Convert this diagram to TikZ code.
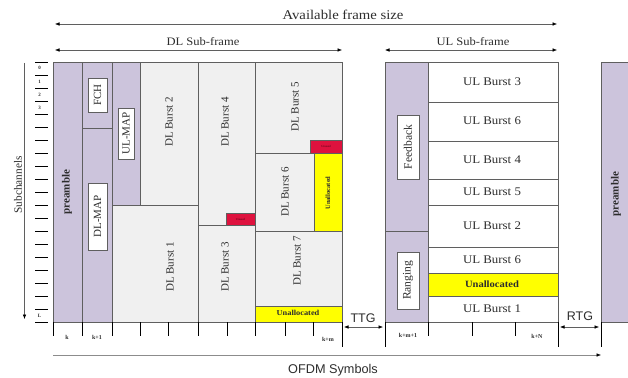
\documentclass[tikz,border=0pt]{standalone}
\usepackage{fontspec}
\setmainfont{Liberation Serif}
\setsansfont{Liberation Sans}
\newfontfamily\wideserif{Liberation Serif}[FakeStretch=1.1]
\usetikzlibrary{arrows.meta}
\definecolor{lav}{RGB}{204,196,220}
\definecolor{burst}{RGB}{240,240,240}
\definecolor{edge}{RGB}{95,95,95}
\definecolor{ink}{RGB}{45,45,45}
\definecolor{hot}{RGB}{222,18,62}
\definecolor{yel}{RGB}{255,255,0}
\newcommand\Cell[6]{\pgfmathsetmacro\mycw{#5-#3}\pgfmathsetmacro\mych{#6-#4}\node[#2, anchor=north west, minimum width=\mycw pt, minimum height=\mych pt, inner sep=0pt, outer sep=0pt] (#1) at (#3,#4) {};}
\begin{document}
\begin{tikzpicture}[x=1pt,y=-1pt,
  cell/.style={draw=edge, line width=0.7pt, rectangle},
  lavcell/.style={cell, fill=lav},
  graycell/.style={cell, fill=burst},
  whitecell/.style={cell, fill=white},
  yelcell/.style={cell, fill=yel},
  redcell/.style={cell, fill=hot},
  tag/.style={cell, fill=white},
  txt/.style={text=ink, inner sep=0pt},
  vtxt/.style={txt, rotate=90, font=\fontsize{11}{12}\selectfont},
  htxt/.style={txt, font=\wideserif\fontsize{11.7}{13}\selectfont},
  stxt/.style={txt, font=\sffamily\fontsize{12.5}{14}\selectfont},
  ktxt/.style={txt, font=\bfseries\fontsize{6}{7}\selectfont},
  ntxt/.style={txt, font=\bfseries\fontsize{5}{6}\selectfont},
  tickline/.style={draw=black, line width=0.9pt},
  dimarrow/.style={draw=edge, line width=0.6pt, {Latex[length=4.5pt,width=3.6pt,black]}-{Latex[length=4.5pt,width=3.6pt,black]}},
  onearrow/.style={draw=edge, line width=0.6pt, -{Latex[length=4.5pt,width=3.6pt,black]}},
]
\useasboundingbox (0,0) rectangle (628,377);

% ---------- top dimension arrows ----------
\coordinate (afL) at (55,24); \coordinate (afR) at (557,24);
\draw[dimarrow] (afL) -- (afR);
\node[txt, font=\wideserif\fontsize{13.4}{15}\selectfont] (aft) at (343,15) {Available frame size};
\coordinate (dlL) at (55,50); \coordinate (dlR) at (342,50);
\draw[dimarrow] (dlL) -- (dlR);
\node[txt, font=\wideserif\fontsize{11.4}{13}\selectfont] (dlt) at (203,42) {DL Sub-frame};
\coordinate (ulL) at (385,50); \coordinate (ulR) at (557,50);
\draw[dimarrow] (ulL) -- (ulR);
\node[txt, font=\wideserif\fontsize{11.4}{13}\selectfont] (ult) at (473,42) {UL Sub-frame};

% ---------- DL sub-frame ----------
\Cell{preL}{lavcell}{53}{62}{82}{322}
\Cell{fchc}{lavcell}{82}{62}{112}{128}
\Cell{dlmapc}{lavcell}{82}{128}{112}{322}
\Cell{ulmapc}{lavcell}{112}{62}{140}{205}
\Cell{b2}{graycell}{140}{62}{198}{205}
\Cell{b1}{graycell}{112}{205}{198}{322}
\Cell{b4}{graycell}{198}{62}{255}{225}
\Cell{r4}{redcell}{226}{213}{255}{225}
\Cell{b3}{graycell}{198}{225}{255}{322}
\Cell{b5}{graycell}{255}{62}{342}{153}
\Cell{r5}{redcell}{310}{140}{342}{153}
\Cell{b6}{graycell}{255}{153}{342}{231}
\Cell{y6}{yelcell}{314}{153}{342}{231}
\Cell{b7}{graycell}{255}{231}{342}{306}
\Cell{y7}{yelcell}{255}{306}{342}{322}

\Cell{fchbox}{tag}{88}{78}{107}{112}
\Cell{ulmapbox}{tag}{118}{108}{134}{159}
\Cell{dlmapbox}{tag}{88}{183}{107}{250}

\node[txt, rotate=90, font=\bfseries\fontsize{11}{12}\selectfont] (preLt) at (67,192) {preamble};
\node[vtxt] (fcht) at (fchbox) {FCH};
\node[vtxt] (ulmapt) at (ulmapbox) {UL-MAP};
\node[vtxt] (dlmapt) at (dlmapbox) {DL-MAP};
\node[vtxt] (b2t) at (169,122) {DL Burst 2};
\node[vtxt] (b1t) at (170,267) {DL Burst 1};
\node[vtxt] (b4t) at (225,122) {DL Burst 4};
\node[vtxt] (b3t) at (225,267) {DL Burst 3};
\node[vtxt] (b5t) at (295,107) {DL Burst 5};
\node[vtxt] (b6t) at (285,192) {DL Burst 6};
\node[vtxt] (b7t) at (297,261) {DL Burst 7};
\node[txt, rotate=90, font=\bfseries\fontsize{6.5}{7}\selectfont] (y6t) at (328,193) {Unallocated};
\node[txt, font=\bfseries\wideserif\fontsize{7.6}{9}\selectfont] (y7t) at (298,313) {Unallocated};
\node[txt, text=black!70!hot, font=\fontsize{3}{3.5}\selectfont] (r4t) at (r4) {Unused};
\node[txt, text=black!70!hot, font=\fontsize{3}{3.5}\selectfont] (r5t) at (r5) {Unused};

% ---------- UL sub-frame ----------
\Cell{fbc}{lavcell}{385}{62}{428}{231}
\Cell{rgc}{lavcell}{385}{231}{428}{322}
\Cell{u3}{whitecell}{428}{62}{558}{102}
\Cell{u6a}{whitecell}{428}{102}{558}{141}
\Cell{u4}{whitecell}{428}{141}{558}{179}
\Cell{u5}{whitecell}{428}{179}{558}{205}
\Cell{u2}{whitecell}{428}{205}{558}{247}
\Cell{u6b}{whitecell}{428}{247}{558}{273}
\Cell{uy}{yelcell}{428}{273}{558}{296}
\Cell{u1}{whitecell}{428}{296}{558}{322}
\Cell{fbbox}{tag}{397}{115}{419}{179}
\Cell{rgbox}{tag}{397}{252}{419}{309}

\node[txt, rotate=90, font=\fontsize{11.5}{13}\selectfont] (fbt) at (fbbox) {Feedback};
\node[txt, rotate=90, font=\fontsize{11.5}{13}\selectfont] (rgt) at (rgbox) {Ranging};
\node[htxt] (u3t) at (492,82) {UL Burst 3};
\node[htxt] (u6at) at (492,121) {UL Burst 6};
\node[htxt] (u4t) at (492,160) {UL Burst 4};
\node[htxt] (u5t) at (492,192) {UL Burst 5};
\node[htxt] (u2t) at (492,226) {UL Burst 2};
\node[htxt] (u6bt) at (492,260) {UL Burst 6};
\node[txt, font=\bfseries\wideserif\fontsize{9.6}{11}\selectfont] (uyt) at (492,284.5) {Unallocated};
\node[htxt] (u1t) at (492,309) {UL Burst 1};

% ---------- next frame preamble ----------
\Cell{preR}{lavcell}{601}{62}{640}{322}
\node[txt, rotate=90, font=\bfseries\fontsize{11}{12}\selectfont] (preRt) at (616,194) {preamble};

% ---------- subchannel axis ----------
\coordinate (scT) at (24.5,63); \coordinate (scB) at (24.5,319);
\draw[onearrow] (scT) -- (scB);
\node[txt, rotate=90, font=\fontsize{11.3}{13}\selectfont] (sct) at (18,185) {Subchannels};
\foreach \i in {0,...,20} \draw[tickline] (35,{62+13*\i}) -- (48,{62+13*\i});
\node[ntxt] (s0) at (39.5,68) {0};
\node[ntxt] (s1) at (39.5,81.5) {1};
\node[ntxt] (s2) at (39.5,95) {2};
\node[ntxt] (s3) at (39.5,108) {3};
\node[ntxt] (sL) at (39.5,315.5) {L};

% ---------- symbol axis ----------
\foreach \x in {53,82,112,140,168,198,227,255,285,313,428,472,515} \draw[tickline] (\x,322) -- (\x,336);
\foreach \x in {342,385,558,601} \draw[tickline] (\x,322) -- (\x,347);
\node[ktxt] (k0) at (67,337) {k};
\node[ktxt] (k1) at (97,337) {k+1};
\node[ktxt] (km) at (328,339) {k+m};
\node[ktxt] (kmm) at (408,335) {k+m+1};
\node[ktxt] (kN) at (537,336) {k+N};

\coordinate (tgL) at (344,327); \coordinate (tgR) at (383,327);
\draw[dimarrow] (tgL) -- (tgR);
\node[stxt] (tgt) at (363,318) {TTG};
\coordinate (rgL) at (560,327); \coordinate (rgR) at (599,327);
\draw[dimarrow] (rgL) -- (rgR);
\node[stxt] (rgtt) at (580,316) {RTG};

\coordinate (ofL) at (53,355); \coordinate (ofR) at (601,355);
\draw[onearrow, draw=black!45] (ofL) -- (ofR);
\node[txt, font=\sffamily\fontsize{12.7}{14}\selectfont] (oft) at (333,370) {OFDM Symbols};
\end{tikzpicture}
\end{document}
